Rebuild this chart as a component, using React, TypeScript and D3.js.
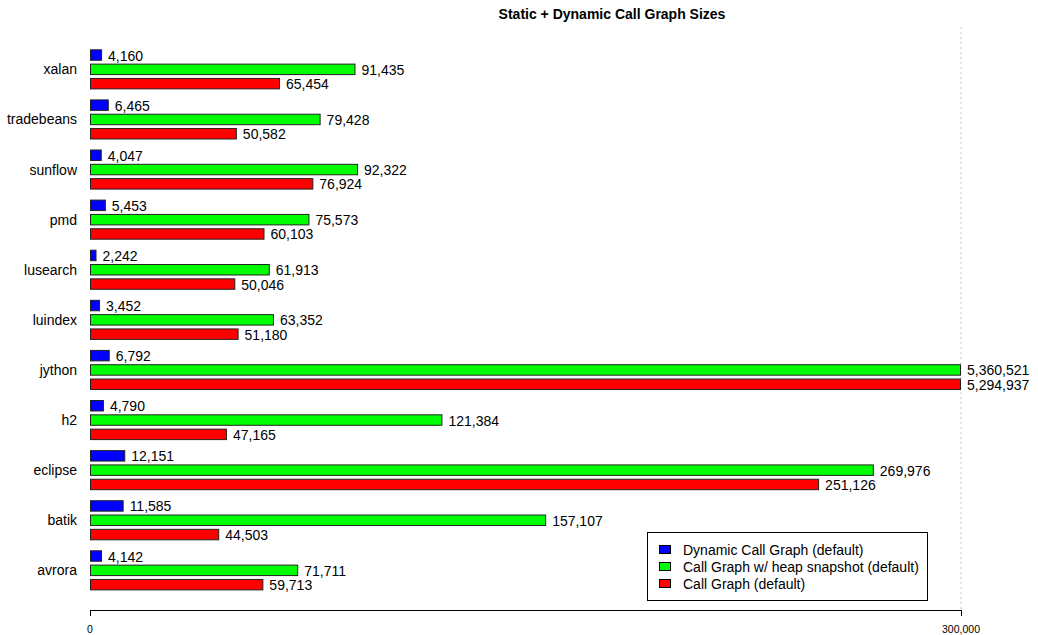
import React from "react";
import * as d3 from "d3";

const categories = ["xalan", "tradebeans", "sunflow", "pmd", "lusearch", "luindex", "jython", "h2", "eclipse", "batik", "avrora"];
const seriesNames = ["Dynamic Call Graph (default)", "Call Graph w/ heap snapshot (default)", "Call Graph (default)"];
const seriesColors = ["#0000ff", "#00ff00", "#ff0000"];
const dynamicCG = [4160, 6465, 4047, 5453, 2242, 3452, 6792, 4790, 12151, 11585, 4142];
const heapCG = [91435, 79428, 92322, 75573, 61913, 63352, 5360521, 121384, 269976, 157107, 71711];
const defaultCG = [65454, 50582, 76924, 60103, 50046, 51180, 5294937, 47165, 251126, 44503, 59713];
const xTicks = [0, 300000];
const xMax = 300000;

const W = 1038;
const H = 635;
const FONT = "'Liberation Sans', Arial, Helvetica, sans-serif";

export default function App() {
  const x = d3.scaleLinear().domain([0, xMax]).range([90, 961]);
  const y = d3.scaleBand<string>().domain(categories).range([44.3, 44.3 + 11 * 50.1]).paddingInner(0.2).paddingOuter(0.1);
  const inner = d3.scaleBand<number>().domain([0, 1, 2]).range([0, y.bandwidth()]).paddingInner(0.2).paddingOuter(0);
  const series = [dynamicCG, heapCG, defaultCG];
  const fmt = d3.format(",");
  const axisY = 610;

  return (
    <svg width={W} height={H} style={{ position: "absolute", left: 0, top: 0, background: "#fff" }} fontFamily={FONT}>
      <text x={612} y={19} textAnchor="middle" fontWeight="bold" fontSize={14}>Static + Dynamic Call Graph Sizes</text>
      <line x1={x(xMax)} x2={x(xMax)} y1={27} y2={axisY} stroke="#c8c8c8" strokeWidth={1} strokeDasharray="2,3" />
      {categories.map((c, i) => (
        <g key={c}>
          <text x={77} y={(y(c) as number) + y.bandwidth() / 2} textAnchor="end" dominantBaseline="central" fontSize={14}>{c}</text>
          {series.map((s, k) => {
            const v = s[i];
            const xe = x(Math.min(v, xMax));
            const yy = (y(c) as number) + (inner(k) as number);
            return (
              <g key={k}>
                <rect x={x(0) + 0.5} y={yy + 0.5} width={xe - x(0) - 1} height={inner.bandwidth() - 1} fill={seriesColors[k]} stroke="#222" strokeWidth={1} />
                <text x={xe + 6} y={yy + inner.bandwidth() / 2 + 0.5} dominantBaseline="central" fontSize={14}>{fmt(v)}</text>
              </g>
            );
          })}
        </g>
      ))}
      <line x1={x(0)} x2={x(xMax)} y1={axisY + 0.5} y2={axisY + 0.5} stroke="#000" strokeWidth={1} />
      {xTicks.map((t) => (
        <g key={t}>
          <line x1={x(t) + 0.5} x2={x(t) + 0.5} y1={axisY} y2={axisY + 6} stroke="#000" strokeWidth={1} />
          <text x={x(t)} y={633} textAnchor="middle" fontSize={10.5}>{fmt(t)}</text>
        </g>
      ))}
      <rect x={647.5} y={532.5} width={280} height={68} fill="#fff" stroke="#000" strokeWidth={1} />
      {seriesNames.map((n, k) => (
        <g key={n}>
          <rect x={659.5} y={545.5 + k * 17} width={11} height={8} fill={seriesColors[k]} stroke="#000" strokeWidth={1} />
          <text x={683} y={550 + k * 17} dominantBaseline="central" fontSize={14}>{n}</text>
        </g>
      ))}
    </svg>
  );
}
